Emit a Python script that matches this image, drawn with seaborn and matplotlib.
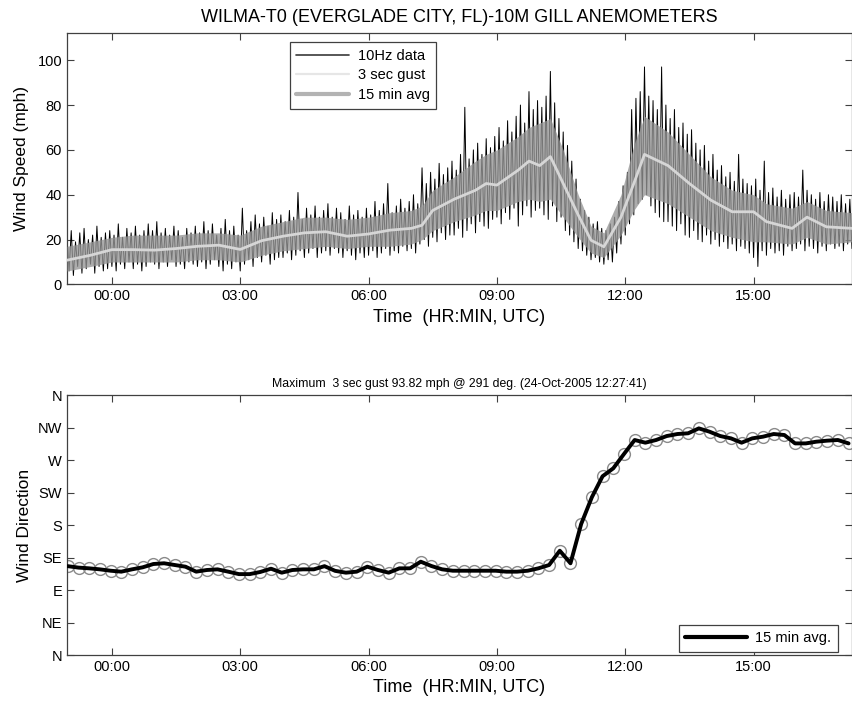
import numpy as np
import pandas as pd
import matplotlib
matplotlib.use("Agg")
import matplotlib.pyplot as plt
import seaborn as sns
from matplotlib.lines import Line2D

# ---------------- data: top panel (wind speed, mph) ----------------
# 10Hz data: peak / trough values read every 0.1 h starting at -1.05 h
tenhz_peaks = [
    21, 24, 19, 23, 25, 20, 22, 26, 21, 23,
    24, 22, 27, 21, 25, 23, 26, 22, 24, 27,
    24, 28, 23, 25, 22, 26, 24, 21, 25, 23,
    26, 23, 28, 24, 27, 22, 25, 29, 24, 26,
    22, 34, 24, 28, 31, 27, 30, 26, 32, 29,
    31, 28, 33, 30, 41, 29, 34, 31, 35, 30,
    33, 36, 30, 34, 32, 29, 35, 31, 33, 30,
    34, 31, 37, 33, 36, 45, 32, 35, 38, 34,
    37, 40, 36, 52, 45, 50, 47, 54, 49, 52,
    55, 51, 58, 79, 56, 60, 63, 58, 65, 61,
    66, 70, 64, 73, 68, 75, 80, 72, 86, 78,
    82, 79, 84, 95, 81, 74, 68, 62, 55, 47,
    38, 33, 30, 27, 28, 25, 24, 27, 30, 37,
    44, 50, 78, 83, 86, 97, 84, 82, 78, 97,
    80, 74, 78, 70, 72, 67, 69, 63, 60, 62,
    55, 58, 51, 53, 48, 50, 46, 58, 47, 45,
    44, 47, 42, 55, 41, 43, 39, 42, 38, 40,
    41, 39, 51, 42, 40, 38, 41, 37, 40, 39,
    37, 40, 36, 38,
]
tenhz_troughs = [
    6, 4, 8, 5, 7, 9, 5, 8, 6, 7,
    8, 6, 9, 7, 10, 7, 9, 6, 8, 10,
    9, 7, 10, 8, 11, 8, 9, 7, 10, 9,
    8, 10, 7, 9, 11, 8, 6, 9, 7, 10,
    6, 9, 11, 8, 12, 10, 13, 9, 11, 12,
    12, 14, 11, 13, 15, 12, 14, 16, 12, 14,
    15, 13, 16, 14, 12, 15, 13, 11, 14, 12,
    13, 15, 12, 14, 16, 13, 15, 14, 17, 15,
    16, 14, 18, 20, 17, 21, 19, 23, 20, 22,
    22, 25, 21, 24, 27, 23, 28, 26, 25, 29,
    30, 27, 32, 29, 34, 26, 31, 35, 30, 33,
    34, 31, 29, 35, 28, 30, 24, 22, 19, 16,
    15, 13, 11, 12, 10, 9, 11, 10, 14, 18,
    22, 27, 31, 36, 38, 40, 35, 32, 30, 28,
    28, 26, 24, 27, 22, 21, 24, 20, 19, 22,
    18, 20, 17, 19, 16, 18, 15, 17, 16, 14,
    12, 8, 15, 13, 16, 14, 15, 13, 17, 15,
    16, 18, 15, 17, 16, 14, 17, 15, 18, 16,
    17, 15, 18, 16,
]

# 15 min average and 3 sec gust band (hours relative to 00:00 UTC)
avg_times = [-1.05, -0.5, 0.0, 0.5, 1.0, 1.5, 2.0, 2.5, 3.0, 3.5, 4.0, 4.5, 5.0,
             5.5, 6.0, 6.5, 7.0, 7.25, 7.5, 8.0, 8.5, 8.75, 9.0, 9.5, 9.75, 10.0,
             10.25, 10.55, 10.9, 11.2, 11.5, 11.9, 12.2, 12.45, 13.0, 13.5, 14.0,
             14.5, 15.0, 15.3, 15.9, 16.25, 16.7, 17.3]
avg_speed = [10.8, 13, 15.5, 15.5, 15.3, 16, 17, 17.5, 15.6, 19.5, 21.5, 23, 23.5,
             21.5, 22.5, 24.2, 25, 26.4, 33, 38, 42, 45, 44.3, 51, 55, 53,
             57, 45, 31, 19.7, 16.8, 30, 45, 58, 53, 45, 37.6,
             32.4, 32.4, 28, 25, 30, 25.7, 25]
gust_hi = [17, 19, 21, 22, 22, 22, 23, 23, 22, 26, 28, 30, 30,
           29, 30, 32, 33, 35, 42, 48, 55, 58, 60, 66, 70, 72,
           74, 60, 40, 26, 23, 40, 62, 75, 68, 58, 48,
           42, 40, 36, 34, 37, 33, 32]
gust_lo = [6, 8, 10, 10, 10, 10, 11, 11, 10, 13, 15, 16, 17,
           16, 17, 17, 18, 20, 24, 28, 31, 33, 33, 37, 38, 37,
           38, 30, 21, 14, 12, 22, 33, 40, 36, 30, 24,
           21, 19, 19, 18, 21, 18, 19]

# ---------------- data: bottom panel (wind direction, deg) ----------------
dir_start = -1.03
dir_values = [
    123, 121, 120, 118.6, 116.7, 115.4, 118.6, 121.4, 126, 127,
    124.6, 122.3, 115.4, 117.7, 118.6, 115.4, 112, 112, 115, 119.5,
    114, 117.7, 118.6, 118.6, 123, 116.5, 114, 115.4, 122.3, 117.7,
    114, 120, 120, 129.2, 123.2, 118.6, 116.7, 116.7, 116.7, 116.7,
    116.7, 115.4, 115.4, 116.7, 120, 124.6, 144.4, 127, 181.4, 218.5,
    247.5, 258.5, 278.3, 297.7, 294, 297.7, 303.2, 306, 307, 313.8,
    309.2, 303.2, 300, 294, 300, 302.3, 306, 304.6, 293, 293,
    295.4, 296.8, 297.7, 293,
]

xtick_hours = [0, 3, 6, 9, 12, 15]
xtick_labels = ["00:00", "03:00", "06:00", "09:00", "12:00", "15:00"]
speed_ticks = [0, 20, 40, 60, 80, 100]
dir_ticks = [0, 45, 90, 135, 180, 225, 270, 315, 360]
dir_labels = ["N", "NE", "E", "SE", "S", "SW", "W", "NW", "N"]

# ---------------- build tables ----------------
n = len(tenhz_peaks)
peak_t = -1.05 + 0.1 * np.arange(n)
trough_t = peak_t + 0.05
df10 = pd.DataFrame({"t": np.concatenate([peak_t, trough_t]),
                     "v": np.concatenate([tenhz_peaks, tenhz_troughs])}).sort_values("t")
df_avg = pd.DataFrame({"t": avg_times, "v": avg_speed})
df_dir = pd.DataFrame({"t": dir_start + 0.25 * np.arange(len(dir_values)),
                       "d": dir_values})

# ---------------- style ----------------
sns.set_style("ticks")
plt.rcParams['font.family'] = ['Liberation Sans', 'DejaVu Sans']
plt.rcParams['text.color'] = 'black'
plt.rcParams['axes.labelcolor'] = 'black'
plt.rcParams['axes.edgecolor'] = '#404040'
plt.rcParams['xtick.color'] = '#404040'
plt.rcParams['ytick.color'] = '#404040'
plt.rcParams['xtick.labelcolor'] = 'black'
plt.rcParams['ytick.labelcolor'] = 'black'

fig = plt.figure(figsize=(8.53, 7.04), dpi=100)
ax1 = fig.add_axes([0.0785, 0.596, 0.9203, 0.3567])
ax2 = fig.add_axes([0.0785, 0.0696, 0.9203, 0.3693])

XLIM = (-1.05, 17.3)

# ---- top panel ----
sns.lineplot(data=df10, x="t", y="v", ax=ax1, color="black", lw=0.7,
             estimator=None, sort=False, zorder=2)
ax1.fill_between(avg_times, gust_lo, gust_hi, color="#959595", lw=0, zorder=3, alpha=0.78)
sns.lineplot(data=df_avg, x="t", y="v", ax=ax1, color="#d6d6d6", lw=2.0,
             estimator=None, sort=False, zorder=4)

ax1.set_xlim(*XLIM)
ax1.set_ylim(0, 112)
ax1.set_xticks(xtick_hours)
ax1.set_xticklabels(xtick_labels)
ax1.set_yticks(speed_ticks)
ax1.tick_params(direction="in", top=True, right=True, length=5, labelsize=10.5)
ax1.set_xlabel("Time  (HR:MIN, UTC)", fontsize=13, labelpad=4)
ax1.set_ylabel("Wind Speed (mph)", fontsize=12.5, labelpad=6)
ax1.set_title("WILMA-T0 (EVERGLADE CITY, FL)-10M GILL ANEMOMETERS", fontsize=13, pad=8)

handles = [Line2D([], [], color="#3a3a3a", lw=1.2),
           Line2D([], [], color="#e6e6e6", lw=1.6),
           Line2D([], [], color="#b3b3b3", lw=3)]
leg = ax1.legend(handles, ["10Hz data", "3 sec gust", "15 min avg"],
                 loc="upper left", bbox_to_anchor=(0.284, 0.965), borderaxespad=0,
                 fontsize=10.5, handlelength=3.6, fancybox=False, framealpha=1,
                 edgecolor="#404040", borderpad=0.45, labelspacing=0.4, handletextpad=0.6)
leg.get_frame().set_linewidth(0.9)
for sp in ax1.spines.values():
    sp.set_linewidth(0.9)

# ---- bottom panel ----
sns.lineplot(data=df_dir, x="t", y="d", ax=ax2, marker="o", markersize=8.5,
             markerfacecolor="none", markeredgecolor="#8a8a8a", markeredgewidth=1.0,
             linestyle="none", estimator=None, sort=False, zorder=2)
sns.lineplot(data=df_dir, x="t", y="d", ax=ax2, color="black", lw=2.8,
             estimator=None, sort=False, zorder=3)

ax2.set_xlim(*XLIM)
ax2.set_ylim(0, 360)
ax2.set_xticks(xtick_hours)
ax2.set_xticklabels(xtick_labels)
ax2.set_yticks(dir_ticks)
ax2.set_yticklabels(dir_labels)
ax2.tick_params(direction="in", top=True, right=True, length=5, labelsize=10.5)
ax2.set_xlabel("Time  (HR:MIN, UTC)", fontsize=13, labelpad=4)
ax2.set_ylabel("Wind Direction", fontsize=12.5, labelpad=4)
ax2.set_title("Maximum  3 sec gust 93.82 mph @ 291 deg. (24-Oct-2005 12:27:41)",
              fontsize=8.8, pad=6)
leg2 = ax2.legend([Line2D([], [], color="black", lw=3)], ["15 min avg."],
                  loc="lower right", bbox_to_anchor=(0.982, 0.012), borderaxespad=0,
                  fontsize=10.5, handlelength=4.2, fancybox=False, framealpha=1,
                  edgecolor="#404040", borderpad=0.45, handletextpad=0.6)
leg2.get_frame().set_linewidth(0.9)
for sp in ax2.spines.values():
    sp.set_linewidth(0.9)

fig.savefig("out.png", dpi=100)
